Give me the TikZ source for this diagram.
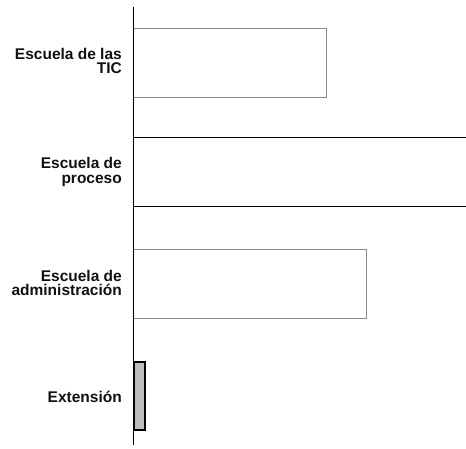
\documentclass[tikz,border=0pt]{standalone}
\usepackage{fontspec}
\setmainfont{Liberation Sans}
\usepackage{tikz}
\usetikzlibrary{positioning,calc}
\usepackage{xcolor}
\definecolor{barline}{HTML}{8A8A8A}
\definecolor{barfill}{HTML}{FFFFFF}
\definecolor{extfill}{HTML}{BDBDBD}
\definecolor{textprimary}{HTML}{111111}

\tikzset{
  schoollabel/.style={text=textprimary,font=\fontsize{15.5}{14.5}\selectfont\bfseries,align=right,anchor=east,inner sep=0pt},
  lightbar/.style={draw=barline,fill=barfill,line width=0.6pt},
  axisline/.style={draw=black,line width=0.9pt}
}

\begin{document}
\begin{tikzpicture}[x=1pt,y=-1pt]
    % Canvas
    \useasboundingbox (0,0) rectangle (466,449);

    % Bars
    \path[lightbar] (133,28) rectangle (326,97);
    \fill[barfill] (133,138) rectangle (466,207);
    \draw[black,line width=1pt] (466,138) -- (133,138) -- (133,207) -- (466,207);
    \path[lightbar] (133,249) rectangle (366,318);
    \filldraw[fill=extfill,draw=black,line width=1.6pt] (133.8,362) rectangle (145,430);

    % Axis
    \coordinate (axistop) at (133,7);
    \coordinate (axisbottom) at (133,445);
    \draw[axisline] (axistop) -- (axisbottom);

    % Labels
    \node[schoollabel] (tic) at (122,61) {Escuela de las\\TIC};
    \node[schoollabel] (proceso) at (122,172) {Escuela de\\proceso};
    \node[schoollabel] (admin) at (122,283) {Escuela de\\administración};
    \node[schoollabel] (extension) at (122,397) {Extensión};
\end{tikzpicture}
\end{document}
